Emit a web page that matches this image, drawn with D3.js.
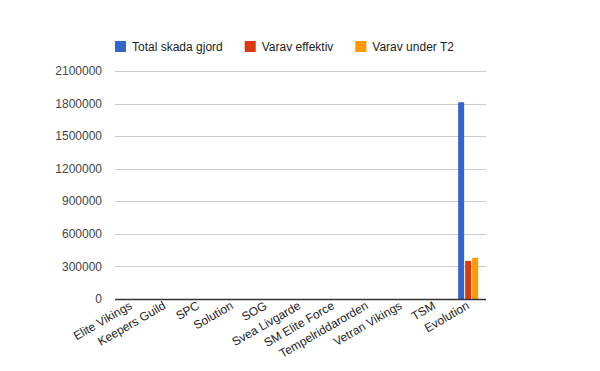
<!DOCTYPE html>
<html>
<head>
<meta charset="utf-8">
<script src="https://cdn.jsdelivr.net/npm/d3@7"></script>
<style>
  body { margin: 0; background: #fff; }
  svg { display: block; font-family: Arial, "Liberation Sans", sans-serif; }
</style>
</head>
<body>
<svg width="600" height="371"></svg>
<script>
const categories = [
  "Elite Vikings", "Keepers Guild", "SPC", "Solution", "SOG", "Svea Livgarde",
  "SM Elite Force", "Tempelriddarorden", "Vetran Vikings", "TSM", "Evolution",
];
const seriesNames = ["Total skada gjord", "Varav effektiv", "Varav under T2"];
const totalDamage = [0, 0, 0, 0, 0, 0, 0, 0, 0, 0, 1812000];
const effective = [0, 0, 0, 0, 0, 0, 0, 0, 0, 0, 351000];
const underT2 = [0, 0, 0, 0, 0, 0, 0, 0, 0, 0, 379000];
const yTicks = [0, 300000, 600000, 900000, 1200000, 1500000, 1800000, 2100000];
const colors = ["#3366cc", "#dc3912", "#ff9900"];

const series = [totalDamage, effective, underT2];
const margin = { top: 71, right: 114, bottom: 72, left: 115 };
const width = 600 - margin.left - margin.right;
const height = 371 - margin.top - margin.bottom;

const svg = d3.select("svg");

const x0 = d3.scaleBand().domain(categories).range([0, width]);
const x1 = d3.scaleBand().domain(seriesNames).range([0, 21]);
const y = d3.scaleLinear().domain([0, 2100000]).range([height, 0]);

const g = svg.append("g")
  .attr("transform", `translate(${margin.left},${margin.top})`);

// gridlines
g.selectAll(".grid")
  .data(yTicks.filter((t) => t > 0))
  .enter()
  .append("line")
  .attr("x1", 0)
  .attr("x2", width)
  .attr("y1", (d) => Math.round(y(d)) + 0.5)
  .attr("y2", (d) => Math.round(y(d)) + 0.5)
  .attr("stroke", "#cccccc");

// y tick labels
g.selectAll(".ylabel")
  .data(yTicks)
  .enter()
  .append("text")
  .attr("x", -13)
  .attr("y", (d) => y(d))
  .attr("dy", "0.35em")
  .attr("text-anchor", "end")
  .style("font-size", "12px")
  .style("fill", "#444")
  .text((d) => d);

// bars
const groups = g.selectAll(".group")
  .data(categories)
  .enter()
  .append("g")
  .attr("transform", (d) => `translate(${x0(d) + x0.bandwidth() / 2 - 11},0)`);

groups.selectAll("rect")
  .data((d, i) => seriesNames.map((s, j) => ({ s, v: series[j][i], c: colors[j] })))
  .enter()
  .append("rect")
  .attr("x", (d) => x1(d.s))
  .attr("width", x1.bandwidth() - 1)
  .attr("y", (d) => y(d.v))
  .attr("height", (d) => height - y(d.v))
  .attr("fill", (d) => d.c);

// baseline
g.append("line")
  .attr("x1", 0)
  .attr("x2", width)
  .attr("y1", height + 0.5)
  .attr("y2", height + 0.5)
  .attr("stroke", "#333")
  .attr("stroke-width", 1.3);

// x labels, slanted
g.selectAll(".xlabel")
  .data(categories)
  .enter()
  .append("text")
  .attr("transform", (d) => `translate(${x0(d) + x0.bandwidth() / 2 + 1},${height + 9}) rotate(-30)`)
  .attr("text-anchor", "end")
  .style("font-size", "12px")
  .style("fill", "#222")
  .text((d) => d);

// legend
const legend = svg.append("g").attr("transform", "translate(115,41)");
let lx = 0;
seriesNames.forEach((name, i) => {
  const item = legend.append("g").attr("transform", `translate(${lx},0)`);
  item.append("rect").attr("width", 11).attr("height", 11).attr("fill", colors[i]);
  const t = item.append("text")
    .attr("x", 17)
    .attr("y", 10)
    .style("font-size", "12px")
    .style("fill", "#222")
    .text(name);
  lx += 17 + t.node().getComputedTextLength() + 22;
});
</script>
</body>
</html>
